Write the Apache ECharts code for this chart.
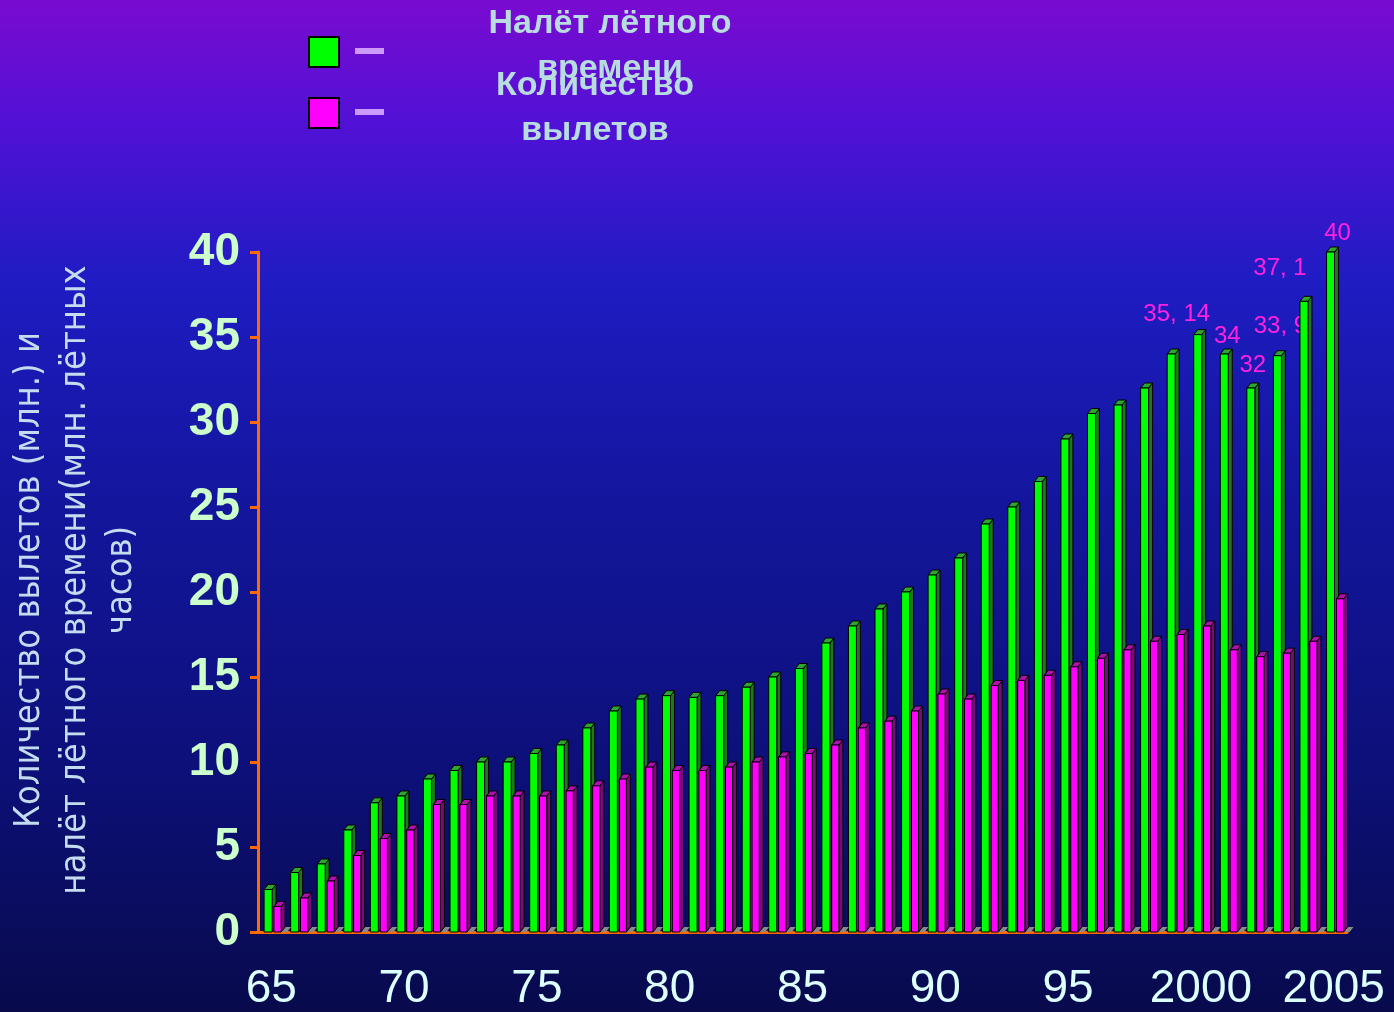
<!DOCTYPE html>
<html>
<head>
<meta charset="utf-8">
<script src="https://cdn.jsdelivr.net/npm/echarts@6/dist/echarts.min.js"></script>
<style>
html, body { margin: 0; padding: 0; }
#main { width: 1394px; height: 1012px; }
</style>
</head>
<body>
<div id="main"></div>
<script>
// годы (подписи оси X)
var years = ['65','66','67','68','69','70','71','72','73','74','75','76','77','78','79',
	'80','81','82','83','84','85','86','87','88','89','90','91','92','93','94','95',
	'96','97','98','99','2000','2001','2002','2003','2004','2005'];
// налёт лётного времени, млн. лётных часов
var nalet = [2.5, 3.5, 4, 6, 7.6, 8, 9, 9.5, 10, 10, 10.5, 11, 12, 13, 13.7,
	13.9, 13.8, 13.9, 14.4, 15, 15.5, 17, 18, 19, 20, 21, 22, 24, 25, 26.5, 29,
	30.5, 31, 32, 34, 35.14, 34, 32, 33.9, 37.1, 40];
// количество вылетов, млн.
var vylety = [1.5, 2, 3, 4.5, 5.5, 6, 7.5, 7.5, 8, 8, 8, 8.3, 8.6, 9, 9.7,
	9.5, 9.5, 9.7, 10, 10.3, 10.5, 11, 12, 12.4, 13, 14, 13.7, 14.5, 14.8, 15.1, 15.6,
	16.1, 16.6, 17.1, 17.5, 18, 16.6, 16.2, 16.4, 17.1, 19.6];
// подписи значений над столбцами
var labelYears = ['2000','2001','2002','2003','2004','2005'];
var yTicks = [0, 5, 10, 15, 20, 25, 30, 35, 40];

// сдвиг подписей относительно верха столбца (px)
var labelShift = {
	'2000': [-21, -20], '2001': [3, -18], '2002': [2, -23],
	'2003': [3, -29], '2004': [-24, -33], '2005': [7, -19]
};

var DX = 4, DY = 5; // глубина "3D"

function barRender(from, to, cFront, cSide, cTop, withLabels, withFloor) {
	return function (params, api) {
		var idx = api.value(0), v = api.value(1);
		var top = api.coord([idx, v]);
		var base = api.coord([idx, 0]);
		var band = api.size([1, 0])[0];
		var x0 = top[0] + band * from, x1 = top[0] + band * to;
		var y1 = top[1], y0 = base[1];
		var line = { stroke: '#000', lineWidth: 1 };
		var kids = [
			{ type: 'polygon', shape: { points: [[x1, y0], [x1 + DX, y0 - DY], [x1 + DX, y1 - DY], [x1, y1]] },
				style: Object.assign({ fill: cSide }, line) },
			{ type: 'polygon', shape: { points: [[x0, y1], [x0 + DX, y1 - DY], [x1 + DX, y1 - DY], [x1, y1]] },
				style: Object.assign({ fill: cTop }, line) },
			{ type: 'rect', shape: { x: x0, y: y1, width: x1 - x0, height: y0 - y1 },
				style: Object.assign({ fill: cFront }, line) }
		];
		if (withFloor) {
			kids.unshift({ type: 'polygon', shape: { points: [[x1, y0], [x1 + 6, y0], [x1 + 6 + DX, y0 - DY], [x1 + DX, y0 - DY]] },
				style: { fill: '#8a8a8a' } });
		}
		var name = years[idx];
		if (withLabels && labelYears.indexOf(name) >= 0) {
			var sh = labelShift[name];
			kids.push({ type: 'text', style: {
				text: String(v).replace('.', ', '), x: (x0 + x1) / 2 + sh[0], y: y1 + sh[1],
				align: 'center', verticalAlign: 'middle',
				font: '24px "Liberation Sans", Arial, sans-serif', fill: '#ff22dd' } });
		}
		return { type: 'group', children: kids };
	};
}

var option = {
	backgroundColor: {
		type: 'linear', x: 0, y: 0, x2: 0, y2: 1,
		colorStops: [
			{ offset: 0, color: '#7a0bd0' },
			{ offset: 0.12, color: '#5211d6' },
			{ offset: 0.28, color: '#1e1cc2' },
			{ offset: 0.5, color: '#13169c' },
			{ offset: 0.75, color: '#0d107a' },
			{ offset: 1, color: '#080a4c' }
		]
	},
	animation: false,
	grid: { left: 258, top: 252, width: 1089, height: 681 },
	xAxis: {
		type: 'category',
		data: years,
		axisLine: { lineStyle: { color: '#ff6a00', width: 3 } },
		axisTick: { interval: 0, length: 7, lineStyle: { color: '#ff6a00', width: 1.5 } },
		axisLabel: {
			interval: 4, margin: 34, color: '#ddffff',
			fontSize: 46, fontFamily: '"Liberation Sans", Arial, sans-serif'
		},
		splitLine: { show: false }
	},
	yAxis: {
		type: 'value', min: 0, max: 40, interval: 5,
		axisLine: { show: true, lineStyle: { color: '#ff6a00', width: 3 } },
		axisTick: { show: true, length: 8, lineStyle: { color: '#ff6a00', width: 3 } },
		axisLabel: {
			margin: 18, color: '#ccffcc', fontSize: 46, fontWeight: 'bold',
			fontFamily: '"Liberation Sans", Arial, sans-serif'
		},
		splitLine: { show: false }
	},
	series: [
		{
			name: 'Налёт лётного времени',
			type: 'custom', clip: false,
			renderItem: barRender(-0.27, 0.03, '#00ff00', '#1c7a1c', '#2fa52f', true, false),
			data: nalet.map(function (v, i) { return [i, v]; })
		},
		{
			name: 'Количество вылетов',
			type: 'custom', clip: false,
			renderItem: barRender(0.1, 0.37, '#ff00ff', '#7a0a7a', '#b010b0', false, true),
			data: vylety.map(function (v, i) { return [i, v]; })
		}
	],
	graphic: [
		{ type: 'rect', shape: { x: 309, y: 37, width: 30, height: 30 }, style: { fill: '#00ff00', stroke: '#000', lineWidth: 2 } },
		{ type: 'rect', shape: { x: 309, y: 98, width: 30, height: 30 }, style: { fill: '#ff00ff', stroke: '#000', lineWidth: 2 } },
		{ type: 'rect', shape: { x: 355, y: 48, width: 29, height: 6 }, style: { fill: '#cc99ff' } },
		{ type: 'rect', shape: { x: 355, y: 109, width: 29, height: 6 }, style: { fill: '#cc99ff' } },
		{ type: 'text', x: 610, y: 1, style: {
			text: 'Налёт лётного\nвремени', align: 'center', verticalAlign: 'top', lineHeight: 45,
			font: 'bold 34px "Liberation Sans", Arial, sans-serif', fill: '#b8dde0' } },
		{ type: 'text', x: 595, y: 63, style: {
			text: 'Количество\nвылетов', align: 'center', verticalAlign: 'top', lineHeight: 45,
			font: 'bold 34px "Liberation Sans", Arial, sans-serif', fill: '#b8dde0' } },
		{ type: 'text', x: 76, y: 580, rotation: Math.PI / 2, style: {
			text: 'Количество вылетов (млн.) и\nналёт лётного времени(млн. лётных\nчасов)',
			align: 'center', verticalAlign: 'middle', lineHeight: 46,
			font: '36px "Liberation Sans Narrow", "DejaVu Sans Condensed", sans-serif', fill: '#c4dcef' } }
	]
};

var myChart = echarts.init(document.getElementById('main'));
myChart.setOption(option);
</script>
</body>
</html>
